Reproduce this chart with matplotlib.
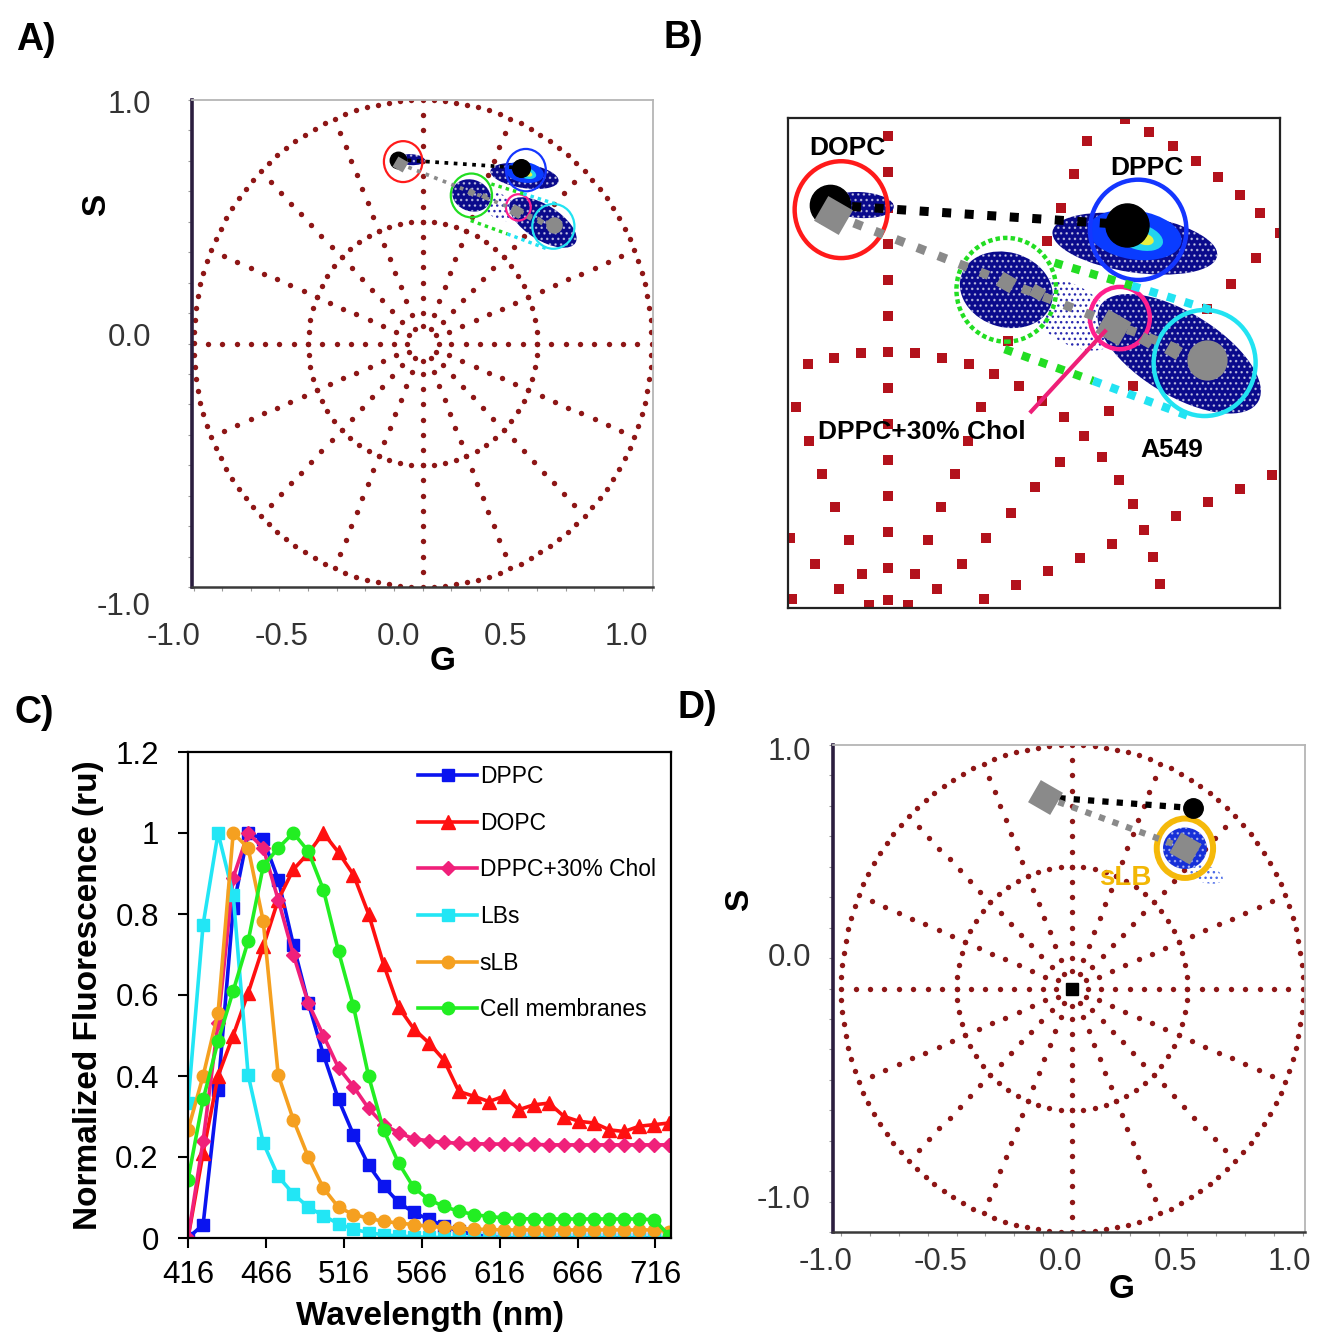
import numpy as np
import matplotlib
matplotlib.use("Agg")
import matplotlib.pyplot as plt
from matplotlib.patches import Ellipse, Circle
from matplotlib.transforms import ScaledTranslation, blended_transform_factory

plt.rcParams['font.family'] = ['Liberation Sans', 'DejaVu Sans']

# ---------------- C) emission spectra ----------------
wavelength = [416.0, 425.7, 435.3, 445.0, 454.6, 464.3, 473.9, 483.6, 493.2, 502.9,
              512.6, 522.2, 531.9, 541.5, 551.2, 560.8, 570.5, 580.2, 589.8, 599.5,
              609.1, 618.8, 628.4, 638.1, 647.7, 657.4, 667.1, 676.7, 686.4, 696.0,
              705.7, 715.3, 725.0]
dppc = [0.0, 0.033, 0.366, 0.815, 1.0, 0.985, 0.885, 0.724, 0.58, 0.453, 0.342, 0.255,
        0.18, 0.128, 0.088, 0.063, 0.046, 0.03, 0.017, 0.008, 0.003, 0.0, 0.0, 0.0,
        0.0, 0.0, 0.0, 0.0, 0.0, 0.0, 0.0, 0.0]
dopc = [0.0, 0.21, 0.40, 0.50, 0.605, 0.72, 0.835, 0.91, 0.95, 1.0, 0.952, 0.897,
        0.80, 0.676, 0.57, 0.517, 0.482, 0.44, 0.362, 0.35, 0.337, 0.35, 0.317, 0.329,
        0.333, 0.30, 0.288, 0.284, 0.267, 0.263, 0.276, 0.28, 0.284]
chol = [0.0, 0.24, 0.53, 0.89, 1.0, 0.963, 0.835, 0.70, 0.58, 0.50, 0.42, 0.374,
        0.32, 0.28, 0.26, 0.245, 0.24, 0.236, 0.234, 0.233, 0.232, 0.232, 0.231, 0.231,
        0.23, 0.23, 0.23, 0.23, 0.23, 0.23, 0.23, 0.23, 0.23]
lbs = [0.333, 0.774, 1.0, 0.848, 0.403, 0.235, 0.152, 0.109, 0.076, 0.055, 0.035, 0.022,
       0.013, 0.008, 0.005, 0.003, 0.002, 0.001, 0.0, 0.0, 0.0, 0.0, 0.0, 0.0,
       0.0, 0.0, 0.0, 0.0, 0.0, 0.0, 0.0, 0.0, 0.0]
slb = [0.267, 0.40, 0.556, 1.0, 0.963, 0.782, 0.403, 0.292, 0.20, 0.123, 0.076, 0.058,
       0.049, 0.041, 0.037, 0.033, 0.029, 0.026, 0.024, 0.022, 0.021, 0.02, 0.02, 0.02,
       0.02, 0.02, 0.02, 0.02, 0.02, 0.02, 0.02, 0.02, 0.016]
cells = [0.144, 0.342, 0.486, 0.61, 0.733, 0.918, 0.963, 1.0, 0.955, 0.86, 0.708, 0.572,
         0.40, 0.267, 0.185, 0.125, 0.095, 0.078, 0.066, 0.058, 0.053, 0.05, 0.048, 0.047,
         0.047, 0.047, 0.047, 0.047, 0.047, 0.047, 0.047, 0.045, 0.005]
spec_labels = ["DPPC", "DOPC", "DPPC+30% Chol", "LBs", "sLB", "Cell membranes"]
spec_x_ticks = [416, 466, 516, 566, 616, 666, 716]
spec_y_ticks = [0, 0.2, 0.4, 0.6, 0.8, 1.0, 1.2]
spec_y_labels = ["0", "0.2", "0.4", "0.6", "0.8", "1", "1.2"]

# ---------------- phasor plots (G, S) ----------------
phasor_ticks = [-1.0, -0.5, 0.0, 0.5, 1.0]
phasor_tick_labels = ["-1.0", "-0.5", "0.0", "0.5", "1.0"]
phasor_yticks = [1.0, 0.0, -1.0]
phasor_ytick_labels = ["1.0", "0.0", "-1.0"]

# polar grid of the phasor plot
grid_radii = [0.07, 0.5, 1.0]
grid_counts = [12, 64, 128]
n_spokes = 16
spoke_step = 0.0625

# A/B: rings around each population
ring_names = ["DOPC", "DPPC", "green", "DPPC+30% Chol", "A549"]
ring_g = [-0.085, 0.451, 0.213, 0.418, 0.571]
ring_s = [0.747, 0.712, 0.608, 0.559, 0.481]
ring_r = [0.084, 0.087, 0.090, 0.054, 0.092]

# A/B: pixel clouds (centre, size, tilt)
cloud_g = [-0.05, 0.445, 0.213, 0.525]
cloud_s = [0.755, 0.688, 0.608, 0.497]
cloud_w = [0.12, 0.30, 0.17, 0.33]
cloud_h = [0.045, 0.10, 0.13, 0.145]
cloud_ang = [-3, -8, -15, -30]
sparse_g = [0.33]
sparse_s = [0.565]
sparse_w = [0.18]
sparse_h = [0.10]
sparse_ang = [-30]

# A/B: reference points
black_g = [-0.106, 0.430]
black_s = [0.755, 0.721]
diamond_g = [-0.100, 0.213, 0.268, 0.406, 0.466, 0.514]
diamond_s = [0.738, 0.622, 0.605, 0.544, 0.521, 0.504]
a549_g, a549_s = 0.575, 0.486
black_line_g = [-0.106, 0.430]
black_line_s = [0.755, 0.721]
gray_line_g = [-0.100, 0.575]
gray_line_s = [0.738, 0.486]
band_upper_g = [0.30, 0.44, 0.585]
band_upper_s = [0.655, 0.615, 0.572]
band_lower_g = [0.21, 0.37, 0.545]
band_lower_s = [0.505, 0.450, 0.388]
arrow_g = [0.258, 0.391]
arrow_s = [0.397, 0.536]

# D
d_black_g, d_black_s = 0.524, 0.741
d_diamond_g = [-0.117, 0.489]
d_diamond_s = [0.786, 0.576]
d_ring_g, d_ring_s, d_ring_r = 0.489, 0.576, 0.122

W, H = 1328, 1343
fig = plt.figure(figsize=(W / 100, H / 100), dpi=100)


def add_axes_px(left, top, right, bottom):
    return fig.add_axes([left / W, 1 - bottom / H, (right - left) / W, (bottom - top) / H])


def draw_grid(ax, size, marker, color):
    gx, gy = [], []
    for r, n in zip(grid_radii, grid_counts):
        t = np.linspace(0, 2 * np.pi, n, endpoint=False)
        gx.extend(r * np.cos(t))
        gy.extend(r * np.sin(t))
    rr = np.arange(0.125, 0.99, spoke_step)
    for k in range(n_spokes):
        a = 2 * np.pi * k / n_spokes
        gx.extend(rr * np.cos(a))
        gy.extend(rr * np.sin(a))
    ax.scatter(gx, gy, s=size, marker=marker, c=color, linewidths=0, zorder=1)


def phasor_frame(ax, xdx, xpad, ydy, ypad):
    ax.spines['top'].set_color('#b5b5b5')
    ax.spines['right'].set_color('#b5b5b5')
    ax.spines['top'].set_linewidth(1.3)
    ax.spines['right'].set_linewidth(1.3)
    ax.spines['left'].set_color('#2b1e3f')
    ax.spines['left'].set_linewidth(2.6)
    ax.spines['bottom'].set_color('#3a3a3a')
    ax.spines['bottom'].set_linewidth(1.8)
    ax.set_xticks(np.arange(-1, 1.01, 0.125), minor=True)
    ax.set_yticks(np.arange(-1, 1.01, 0.125), minor=True)
    ax.set_xticks([])
    ax.set_yticks([])
    ax.tick_params(which='minor', length=3, width=0.8, color='#999999')
    tx = blended_transform_factory(ax.transData, ax.transAxes)
    for v, lab, dx in zip(phasor_ticks, phasor_tick_labels, xdx):
        ax.text(v, 0, lab, transform=tx + ScaledTranslation(dx / 100, -xpad / 100, fig.dpi_scale_trans),
                ha='center', va='center', fontsize=22.5, color='#333333')
    ty = blended_transform_factory(ax.transAxes, ax.transData)
    for v, lab, dy in zip(phasor_yticks, phasor_ytick_labels, ydy):
        ax.text(0, v, lab, transform=ty + ScaledTranslation(-ypad / 100, dy / 100, fig.dpi_scale_trans),
                ha='right', va='center', fontsize=22.5, color='#333333')


def draw_clouds(ax):
    for g, s, w, h, a in zip(cloud_g, cloud_s, cloud_w, cloud_h, cloud_ang):
        ax.add_patch(Ellipse((g, s), w, h, angle=a, facecolor='#0a0a8c', edgecolor='none', zorder=3))
        ax.add_patch(Ellipse((g, s), w, h, angle=a, facecolor='none', edgecolor='white',
                             hatch='...', lw=0, zorder=3.1, alpha=0.6))
    for g, s, w, h, a in zip(sparse_g, sparse_s, sparse_w, sparse_h, sparse_ang):
        ax.add_patch(Ellipse((g, s), w, h, angle=a, facecolor='none', edgecolor='#2a2ab0',
                             hatch='...', lw=0, zorder=3))
    # DPPC intensity core
    ax.add_patch(Ellipse((cloud_g[1], cloud_s[1] + 0.015), 0.17, 0.085, angle=-8,
                         facecolor='#0a3cff', edgecolor='none', zorder=3.2))
    ax.add_patch(Ellipse((0.452, 0.700), 0.09, 0.045, angle=-15,
                         facecolor='#22d3ee', edgecolor='none', zorder=3.3))
    ax.add_patch(Ellipse((0.462, 0.696), 0.035, 0.02, angle=-15,
                         facecolor='#e8f040', edgecolor='none', zorder=3.4))


def draw_phasor_marks(ax, k, ring_lw, green_ls):
    draw_clouds(ax)
    ring_colors = ['#ff1a1a', '#1436ff', '#22dd22', '#ff1f8e', '#22e3f2']
    for i, (g, s, r) in enumerate(zip(ring_g, ring_s, ring_r)):
        ls = green_ls if ring_names[i] == "green" else '-'
        ax.add_patch(Circle((g, s), r, fill=False, edgecolor=ring_colors[i], lw=ring_lw,
                            linestyle=ls, zorder=4))
    band_lw = 6 * k
    for bg, bs in [(band_upper_g, band_upper_s), (band_lower_g, band_lower_s)]:
        ax.plot(bg[:2], bs[:2], color='#22dd22', lw=band_lw,
                linestyle=(0, (1, 1.2)), dash_capstyle='butt', zorder=4)
        ax.plot(bg[1:], bs[1:], color='#22e3f2', lw=band_lw,
                linestyle=(0, (1, 1.2)), dash_capstyle='butt', zorder=4)
    ax.plot(black_line_g, black_line_s, color='black', lw=6.5 * k,
            linestyle=(0, (1, 1.5)), dash_capstyle='butt', zorder=5)
    ax.plot(gray_line_g, gray_line_s, color='#8a8a8a', lw=6.5 * k,
            linestyle=(0, (1, 1.5)), dash_capstyle='butt', zorder=5)
    ax.plot(black_g[:1], black_s[:1], 'o', color='black', ms=29 * k, zorder=6)
    ax.plot(black_g[1:], black_s[1:], 'o', color='black', ms=31 * k, zorder=6)
    dsize = [29, 16, 13, 27, 12, 14]
    for g, s, d in zip(diamond_g, diamond_s, dsize):
        ax.plot(g, s, marker=(4, 0, 15), color='#8a8a8a', ms=d * k, mec='none', zorder=7)
    ax.plot(a549_g, a549_s, 'o', color='#8a8a8a', ms=29 * k, mec='none', zorder=7)


# ---------------- A ----------------
axA = add_axes_px(192, 100, 653, 587)
axA.set_xlim(-1.007, 1.006)
axA.set_ylim(-1.0, 1.0)
draw_grid(axA, 15, 'o', '#8e1616')
draw_phasor_marks(axA, 0.41, 1.6, '-')
phasor_frame(axA, [-20, -27, -24, -32, -25], 50, [-5, 6, -20], 41)

# ---------------- B ----------------
axB = add_axes_px(788, 118, 1280, 608)
axB.set_xlim(-0.181, 0.707)
axB.set_ylim(0.056, 0.906)
draw_grid(axB, 44, 's', '#b3121c')
draw_phasor_marks(axB, 1.0, 3.2, (0, (1, 0.7)))
axB.plot(arrow_g, arrow_s, color='#ee1f78', lw=3, zorder=8)
for sp in axB.spines.values():
    sp.set_linewidth(1.6)
    sp.set_color('#222222')
axB.set_xticks([])
axB.set_yticks([])
axB.text(-0.073, 0.854, "DOPC", ha='center', va='center', fontsize=19, fontweight='bold', zorder=9)
axB.text(0.467, 0.820, "DPPC", ha='center', va='center', fontsize=19, fontweight='bold', zorder=9)
axB.text(0.06, 0.361, "DPPC+30% Chol", ha='center', va='center', fontsize=19, fontweight='bold', zorder=9)
axB.text(0.512, 0.330, "A549", ha='center', va='center', fontsize=19, fontweight='bold', zorder=9)

# ---------------- C ----------------
axC = add_axes_px(188, 752, 671, 1238)
spec_series = [dppc, dopc, chol, lbs, slb, cells]
spec_colors = ['#0a14f0', '#ff1010', '#f0207a', '#22e6f5', '#f5a020', '#22ee22']
spec_markers = ['s', '^', 'D', 's', 'o', 'o']
spec_ms = [8.5, 9.5, 7, 8.5, 9, 9]
for y, lab, c, m, ms in zip(spec_series, spec_labels, spec_colors, spec_markers, spec_ms):
    axC.plot(wavelength[:len(y)], y, color=c, marker=m, ms=ms, lw=2.6, mec=c, label=lab)
axC.set_xlim(416, 726)
axC.set_ylim(0, 1.2)
axC.set_xticks(spec_x_ticks)
axC.set_yticks(spec_y_ticks)
axC.set_yticklabels(spec_y_labels)
axC.tick_params(direction='out', length=7, width=1.5, labelsize=22.5)
axC.tick_params(axis='x', pad=9)
axC.tick_params(axis='y', pad=14)
for sp in axC.spines.values():
    sp.set_linewidth(1.6)
axC.set_xlabel("Wavelength (nm)", fontsize=24, fontweight='bold', labelpad=8)
axC.set_ylabel("Normalized Fluorescence (ru)", fontsize=24, fontweight='bold', labelpad=8)
axC.legend(loc='upper left', bbox_to_anchor=(0.476, 0.973), frameon=False, fontsize=16.5,
           handlelength=2.6, handletextpad=0.1, labelspacing=1.03, borderpad=0, borderaxespad=0)

# ---------------- D ----------------
axD = add_axes_px(833, 745, 1305, 1232)
axD.set_xlim(-1.035, 1.009)
axD.set_ylim(-1.0, 1.0)
draw_grid(axD, 15, 'o', '#8e1616')
axD.add_patch(Ellipse((d_ring_g, d_ring_s), 0.19, 0.17, facecolor='#1630d8', edgecolor='none', zorder=3))
axD.add_patch(Ellipse((d_ring_g, d_ring_s), 0.19, 0.17, facecolor='none', edgecolor='white',
                      hatch='...', lw=0, zorder=3.1, alpha=0.5))
axD.add_patch(Ellipse((0.575, 0.47), 0.16, 0.07, angle=-15, facecolor='none', edgecolor='#4a6ae8',
                      hatch='...', lw=0, zorder=3))
axD.add_patch(Circle((d_ring_g, d_ring_s), d_ring_r, fill=False, edgecolor='#f5b90a', lw=4.3, zorder=4))
axD.plot([d_diamond_g[0], d_black_g], [d_diamond_s[0], d_black_s], color='black', lw=4.5,
         linestyle=(0, (1, 1.3)), dash_capstyle='butt', zorder=5)
axD.plot(d_diamond_g, d_diamond_s, color='#8a8a8a', lw=4.5,
         linestyle=(0, (1, 1.3)), dash_capstyle='butt', zorder=5)
axD.plot(d_black_g, d_black_s, 'o', color='black', ms=14, zorder=6)
axD.plot(d_diamond_g[:1], d_diamond_s[:1], marker=(4, 0, 15), color='#8a8a8a', ms=26, mec='none', zorder=7)
axD.plot(d_diamond_g[1:], d_diamond_s[1:], marker=(4, 0, 15), color='#8a8a8a', ms=24, mec='none', zorder=7)
axD.plot(0, 0, 's', color='black', ms=8, zorder=7)
axD.text(0.229, 0.455, "sLB", color='#f2b705', fontsize=20, fontweight='bold', ha='center', va='center', zorder=8)
phasor_frame(axD, [-16, -16, -12, -12, -14], 30, [-7, 31, 32], 22)

# axis letters of the phasor plots
fig.text(97 / W, 1 - 205 / H, "S", rotation=90, fontsize=24, fontweight='bold', ha='center', va='center')
fig.text(443 / W, 1 - 662 / H, "G", fontsize=24, fontweight='bold', ha='center', va='center')
fig.text(740 / W, 1 - 900 / H, "S", rotation=90, fontsize=24, fontweight='bold', ha='center', va='center')
fig.text(1122 / W, 1 - 1290 / H, "G", fontsize=24, fontweight='bold', ha='center', va='center')

# panel letters
for lab, x, y in [("A)", 36, 40), ("B)", 683, 38), ("C)", 34, 713), ("D)", 697, 708)]:
    fig.text(x / W, 1 - y / H, lab, fontsize=27, fontweight='bold', ha='center', va='center')

fig.savefig("out.png", dpi=100)
